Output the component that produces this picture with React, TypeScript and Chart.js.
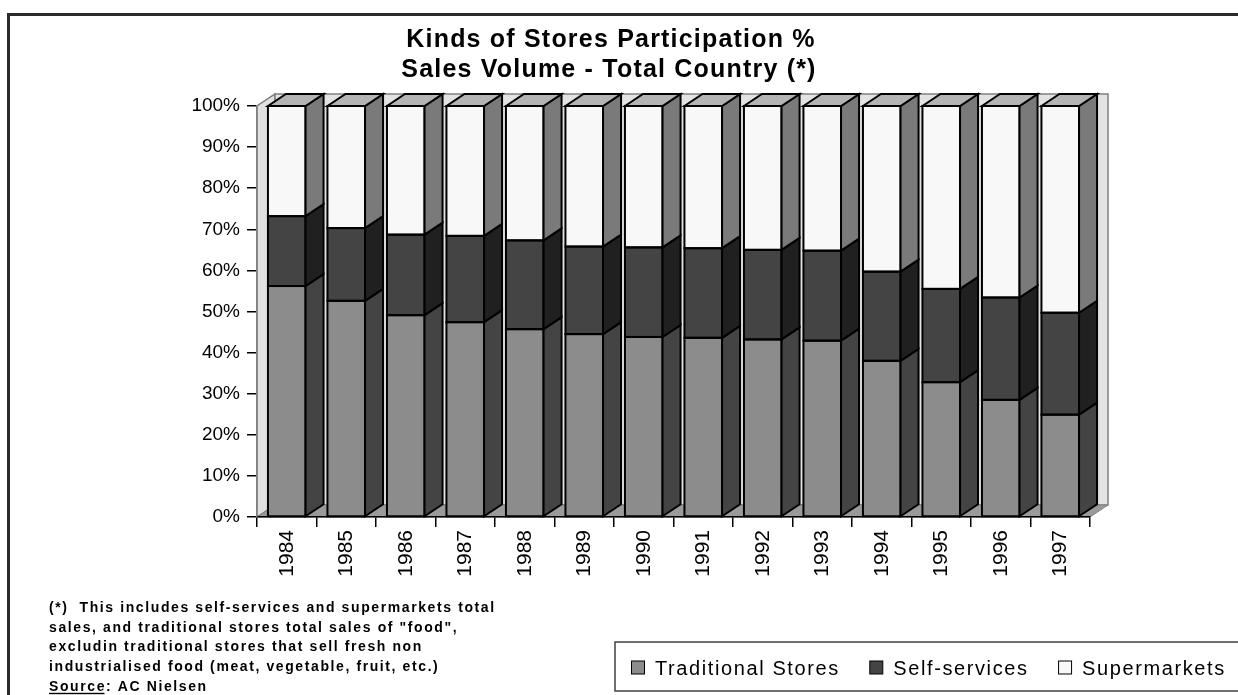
import React, { useEffect, useRef } from 'react';
import { Chart, registerables } from 'chart.js';

Chart.register(...registerables);

const FONT = '"Liberation Sans", Arial, Helvetica, sans-serif';

const years = ['1984', '1985', '1986', '1987', '1988', '1989', '1990', '1991', '1992', '1993', '1994', '1995', '1996', '1997'];
const traditionalStores = [56.2, 52.6, 49.1, 47.4, 45.7, 44.5, 43.8, 43.6, 43.2, 42.9, 38.0, 32.8, 28.5, 24.9];
const selfServices = [17.0, 17.7, 19.6, 21.0, 21.6, 21.3, 21.8, 21.8, 21.8, 21.9, 21.7, 22.7, 24.9, 24.8];
const supermarkets = [26.8, 29.7, 31.3, 31.6, 32.7, 34.2, 34.4, 34.6, 35.0, 35.2, 40.3, 44.5, 46.6, 50.3];
const seriesNames = ['Traditional Stores', 'Self-services', 'Supermarkets'];
const yTickMax = 100;
const yTickStep = 10;

const titleLines = ['Kinds of Stores Participation %', 'Sales Volume - Total Country (*)'];
const footnoteLines = [
  '(*)  This includes self-services and supermarkets total',
  'sales, and traditional stores total sales of "food",',
  'excludin traditional stores that sell fresh non',
  'industrialised food (meat, vegetable, fruit, etc.)',
];
const sourceLabel = 'Source';
const sourceText = ': AC Nielsen';

const frontColors = ['#8c8c8c', '#444444', '#f8f8f8'];
const sideColors = ['#444444', '#202020', '#7a7a7a'];
const topColor = '#b4b4b4';
const DX = 18;
const DY = -12;

function poly(ctx: CanvasRenderingContext2D, pts: number[][], fill: string, stroke: string, lw: number) {
  ctx.beginPath();
  ctx.moveTo(pts[0][0], pts[0][1]);
  for (let i = 1; i < pts.length; i++) ctx.lineTo(pts[i][0], pts[i][1]);
  ctx.closePath();
  ctx.fillStyle = fill;
  ctx.fill();
  ctx.strokeStyle = stroke;
  ctx.lineWidth = lw;
  ctx.lineJoin = 'miter';
  ctx.stroke();
}

const excel3d = {
  id: 'excel3d',
  beforeDraw(chart: any) {
    const ctx: CanvasRenderingContext2D = chart.ctx;
    const { left, right, top, bottom } = chart.chartArea;
    ctx.save();
    ctx.fillStyle = '#ffffff';
    ctx.fillRect(0, 0, chart.width, chart.height);
    ctx.fillStyle = '#2b2b2b';
    ctx.fillRect(7, 13, chart.width - 7, 3);
    ctx.fillRect(7, 13, 3, chart.height - 13);
    poly(ctx, [[left, bottom], [left, top], [left + DX, top + DY], [left + DX, bottom + DY]], '#e0e0e0', '#808080', 1.5);
    poly(ctx, [[left + DX, top + DY], [right + DX, top + DY], [right + DX, bottom + DY], [left + DX, bottom + DY]], '#e3e3e3', '#808080', 1.5);
    poly(ctx, [[left, bottom], [right, bottom], [right + DX, bottom + DY], [left + DX, bottom + DY]], '#9a9a9a', '#808080', 1);
    ctx.restore();
  },
  afterDatasetsDraw(chart: any) {
    const ctx: CanvasRenderingContext2D = chart.ctx;
    const n = chart.data.datasets.length;
    ctx.save();
    for (let d = 0; d < n; d++) {
      const meta = chart.getDatasetMeta(d);
      meta.data.forEach((el: any) => {
        const p = el.getProps(['x', 'y', 'base', 'width'], true);
        const xl = p.x - p.width / 2;
        const xr = p.x + p.width / 2;
        const yt = Math.min(p.y, p.base);
        const yb = Math.max(p.y, p.base);
        ctx.strokeStyle = '#000';
        ctx.lineWidth = 2;
        ctx.strokeRect(xl, yt, xr - xl, yb - yt);
        poly(ctx, [[xr, yb], [xr, yt], [xr + DX, yt + DY], [xr + DX, yb + DY]], sideColors[d], '#000', 2);
        if (d === n - 1) {
          poly(ctx, [[xl, yt], [xl + DX, yt + DY], [xr + DX, yt + DY], [xr, yt]], topColor, '#000', 2);
        }
      });
    }
    ctx.restore();
  },
  afterDraw(chart: any) {
    const ctx: any = chart.ctx;
    ctx.save();
    ctx.fillStyle = '#000';
    ctx.font = `bold 25px ${FONT}`;
    ctx.textAlign = 'center';
    ctx.textBaseline = 'alphabetic';
    ctx.letterSpacing = '1.2px';
    ctx.fillText(titleLines[0], 611, 46.7);
    ctx.fillText(titleLines[1], 609, 77.3);
    ctx.font = `bold 14px ${FONT}`;
    ctx.textAlign = 'left';
    ctx.letterSpacing = '1.6px';
    const fx = 49;
    footnoteLines.forEach((line, i) => {
      ctx.fillText(line, fx, 612 + 19.7 * i);
    });
    const sy = 612 + 19.7 * 4;
    ctx.fillText(sourceLabel, fx, sy);
    const sw = ctx.measureText(sourceLabel).width;
    ctx.fillText(sourceText, fx + sw, sy);
    ctx.fillRect(fx, sy + 2, sw - 1.6, 1.4);
    ctx.letterSpacing = '0px';
    ctx.strokeStyle = '#404040';
    ctx.lineWidth = 1.5;
    ctx.strokeRect(615, 642, 660, 49);
    ctx.font = `20px ${FONT}`;
    ctx.letterSpacing = '1.6px';
    let x = 631.5;
    chart.data.datasets.forEach((ds: any) => {
      ctx.fillStyle = ds.backgroundColor;
      ctx.fillRect(x, 661, 13, 13);
      ctx.strokeStyle = '#000';
      ctx.lineWidth = 1;
      ctx.strokeRect(x, 661, 13, 13);
      ctx.fillStyle = '#000';
      ctx.fillText(ds.label, x + 23.5, 675);
      x = x + 23.5 + ctx.measureText(ds.label).width + 30;
    });
    ctx.restore();
  },
};

export default function App() {
  const ref = useRef<HTMLCanvasElement | null>(null);
  useEffect(() => {
    if (!ref.current) return;
    const chart = new Chart(ref.current, {
      type: 'bar',
      data: {
        labels: years,
        datasets: [
          { label: seriesNames[0], data: traditionalStores, backgroundColor: frontColors[0], borderWidth: 0 },
          { label: seriesNames[1], data: selfServices, backgroundColor: frontColors[1], borderWidth: 0 },
          { label: seriesNames[2], data: supermarkets, backgroundColor: frontColors[2], borderWidth: 0 },
        ],
      },
      options: {
        responsive: false,
        animation: false,
        events: [],
        layout: { padding: { left: 0, top: 106, right: 148, bottom: 0 } },
        datasets: { bar: { barPercentage: 0.632, categoryPercentage: 1 } },
        plugins: {
          legend: { display: false },
          title: { display: false },
          tooltip: { enabled: false },
        },
        scales: {
          x: {
            stacked: true,
            grid: { drawOnChartArea: false, drawTicks: true, tickLength: 10, tickColor: '#000', lineWidth: 1.5 },
            border: { display: true, color: '#000', width: 1.5 },
            ticks: {
              autoSkip: false,
              minRotation: 90,
              maxRotation: 90,
              padding: 3,
              color: '#000',
              font: { family: FONT, size: 21 },
            },
            afterFit(scale: any) {
              scale.height = 695 - 517;
            },
          },
          y: {
            stacked: true,
            min: 0,
            max: yTickMax,
            grid: { drawOnChartArea: false, drawTicks: true, tickLength: 10, tickColor: '#000', lineWidth: 1.5 },
            border: { display: true, color: '#808080', width: 1.5 },
            ticks: {
              stepSize: yTickStep,
              padding: 7,
              color: '#000',
              font: { family: FONT, size: 19 },
              callback: (v: any) => `${v}%`,
            },
            afterFit(scale: any) {
              scale.width = 257;
            },
          },
        },
      },
      plugins: [excel3d],
    });
    return () => chart.destroy();
  }, []);
  return (
    <div style={{ position: 'absolute', left: 0, top: 0, width: 1238, height: 695 }}>
      <canvas ref={ref} width={1238} height={695} style={{ display: 'block', width: 1238, height: 695 }} />
    </div>
  );
}
